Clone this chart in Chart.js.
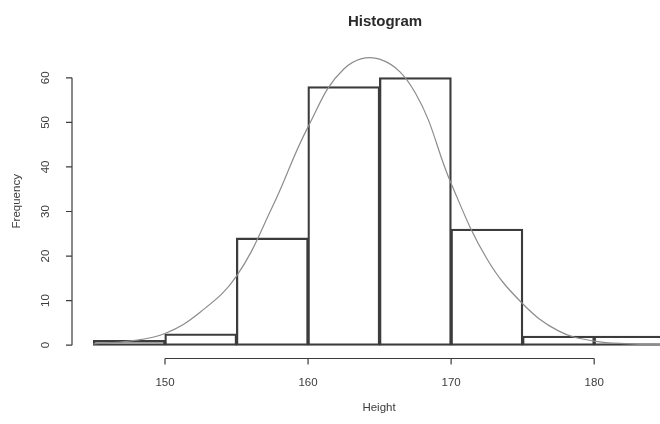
<!DOCTYPE html>
<html>
<head>
<meta charset="utf-8">
<script src="https://cdn.jsdelivr.net/npm/chart.js@4.4.1/dist/chart.umd.min.js"></script>
<style>
  html, body { margin: 0; padding: 0; background: #fff; }
  #wrap { width: 660px; height: 424px; position: relative; }
</style>
</head>
<body>
<div id="wrap"><canvas id="c"></canvas></div>
<script>
// Histogram of heights with a fitted normal curve (R base-graphics look).
const breaks = [145, 150, 155, 160, 165, 170, 175, 180, 185];
const counts = [1, 2.5, 24, 58, 60, 26, 2, 2];

// curve
const curveX = [145, 147.5, 150, 152.5, 155, 157.5, 160, 162.5, 165, 167.5, 170, 172.5, 175, 177.5, 180, 182.5, 185];
const curveY = [0.3, 0.9, 2.6, 7.5, 15.5, 31, 49, 62, 64.2, 56.6, 36.3, 19.4, 9.3, 3.2, 0.9, 0.3, 0.1];

const xTicks = [150, 160, 170, 180];
const yTicks = [0, 10, 20, 30, 40, 50, 60];

const ink = '#3c3c3c';
const curveInk = '#8c8c8c';
const font = '"Liberation Sans", Arial, sans-serif';

const bars = counts.map((c, i) => ({ x: (breaks[i] + breaks[i + 1]) / 2, y: c }));
const curve = curveX.map((v, i) => ({ x: v, y: curveY[i] }));

// R-style axes, title and labels drawn off the chart's own scales
const rAxes = {
  id: 'rAxes',
  afterDraw(chart) {
    const { ctx, chartArea: a, scales: { x, y } } = chart;
    ctx.save();
    ctx.strokeStyle = ink;
    ctx.fillStyle = ink;
    ctx.lineWidth = 1.2;

    // x axis
    ctx.beginPath();
    ctx.moveTo(x.getPixelForValue(xTicks[0]), a.bottom);
    ctx.lineTo(x.getPixelForValue(xTicks[xTicks.length - 1]), a.bottom);
    xTicks.forEach(v => {
      const px = x.getPixelForValue(v);
      ctx.moveTo(px, a.bottom);
      ctx.lineTo(px, a.bottom + 6);
    });
    // y axis
    ctx.moveTo(a.left, y.getPixelForValue(yTicks[0]));
    ctx.lineTo(a.left, y.getPixelForValue(yTicks[yTicks.length - 1]));
    yTicks.forEach(v => {
      const py = y.getPixelForValue(v);
      ctx.moveTo(a.left, py);
      ctx.lineTo(a.left - 6, py);
    });
    ctx.stroke();

    ctx.font = '11.5px ' + font;
    ctx.textAlign = 'center';
    ctx.textBaseline = 'middle';
    xTicks.forEach(v => ctx.fillText(String(v), x.getPixelForValue(v), a.bottom + 24));
    yTicks.forEach(v => {
      ctx.save();
      ctx.translate(a.left - 26, y.getPixelForValue(v));
      ctx.rotate(-Math.PI / 2);
      ctx.fillText(String(v), 0, 0);
      ctx.restore();
    });

    // axis titles
    ctx.fillText('Height', 379, 408);
    ctx.save();
    ctx.translate(17, (a.top + a.bottom) / 2);
    ctx.rotate(-Math.PI / 2);
    ctx.fillText('Frequency', 0, 0);
    ctx.restore();

    // main title
    ctx.font = 'bold 15px ' + font;
    ctx.fillStyle = '#2a2a2a';
    ctx.fillText('Histogram', 385, 22);
    ctx.restore();
  }
};

new Chart(document.getElementById('c'), {
  type: 'bar',
  data: {
    datasets: [
      {
        type: 'line',
        data: curve,
        borderColor: curveInk,
        borderWidth: 1.2,
        pointRadius: 0,
        tension: 0.4,
        fill: false,
        order: 0,
      },
      {
        type: 'bar',
        data: bars,
        backgroundColor: 'rgba(255,255,255,0)',
        borderColor: ink,
        borderWidth: 1.1,
        borderSkipped: false,
        barThickness: 'flex',
        barPercentage: 1,
        categoryPercentage: 1,
        inflateAmount: 0.6,
        order: 1,
      },
    ],
  },
  options: {
    responsive: true,
    maintainAspectRatio: false,
    animation: false,
    layout: { padding: { left: 72, right: 0, top: 44, bottom: 65.5 } },
    plugins: { legend: { display: false }, tooltip: { enabled: false }, title: { display: false } },
    scales: {
      x: { type: 'linear', min: 143.5, max: 184.6, offset: false, display: false },
      y: { type: 'linear', min: -3, max: 67.6, display: false },
    },
  },
  plugins: [rAxes],
});
</script>
</body>
</html>
